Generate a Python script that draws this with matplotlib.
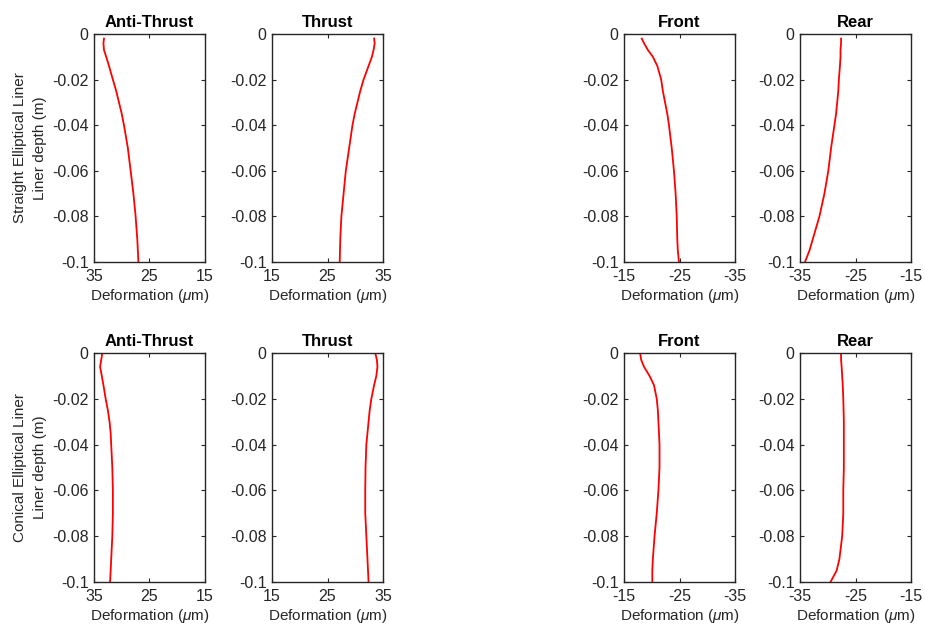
import matplotlib
matplotlib.use("Agg")
import matplotlib.pyplot as plt

plt.rcParams['font.family'] = ['Liberation Sans', 'DejaVu Sans']
plt.rcParams['mathtext.fontset'] = 'custom'
plt.rcParams['mathtext.it'] = 'Liberation Sans:italic'
plt.rcParams['mathtext.rm'] = 'Liberation Sans'

titles = ["Anti-Thrust", "Thrust", "Front", "Rear"]
row_labels = ["Straight Elliptical Liner\nLiner depth (m)",
              "Conical Elliptical Liner\nLiner depth (m)"]
xlims = [(35, 15), (15, 35), (-15, -35), (-35, -15)]
xticks = [[35, 25, 15], [15, 25, 35], [-15, -25, -35], [-35, -25, -15]]
yticks = [0, -0.02, -0.04, -0.06, -0.08, -0.1]
ytick_labels = ["0", "-0.02", "-0.04", "-0.06", "-0.08", "-0.1"]

depth_straight = [-0.002, -0.004, -0.007, -0.010, -0.014, -0.020, -0.025, -0.030,
                  -0.035, -0.040, -0.050, -0.060, -0.070, -0.080, -0.090, -0.095, -0.100]
straight_anti = [33.2, 33.3, 33.2, 32.8, 32.3, 31.6, 31.0, 30.5, 30.0, 29.6, 28.9,
                 28.4, 27.9, 27.5, 27.2, 27.1, 27.0]
straight_thrust = [33.4, 33.5, 33.3, 33.0, 32.4, 31.5, 30.9, 30.4, 29.9, 29.5, 28.9,
                   28.3, 27.9, 27.5, 27.3, 27.25, 27.2]
straight_front = [-18.2, -18.6, -19.3, -20.2, -21.0, -21.7, -22.0, -22.4, -22.8, -23.1,
                  -23.6, -24.0, -24.3, -24.5, -24.6, -24.7, -24.9]
straight_rear = [-27.6, -27.6, -27.7, -27.7, -27.8, -28.0, -28.1, -28.3, -28.5, -28.8,
                 -29.4, -29.9, -30.6, -31.5, -32.7, -33.3, -34.1]

depth_conical = [0.0, -0.003, -0.006, -0.010, -0.014, -0.020, -0.025, -0.030, -0.035,
                 -0.040, -0.050, -0.060, -0.070, -0.080, -0.090, -0.095, -0.100]
conical_anti = [33.5, 33.7, 33.9, 33.6, 33.3, 32.9, 32.5, 32.2, 32.0, 31.9, 31.7,
                31.6, 31.6, 31.7, 31.9, 32.0, 32.1]
conical_thrust = [33.6, 33.9, 34.0, 33.8, 33.4, 32.9, 32.6, 32.4, 32.2, 32.0, 31.85,
                  31.8, 31.8, 32.0, 32.2, 32.3, 32.4]
conical_front = [-17.9, -18.1, -18.6, -19.6, -20.4, -20.9, -21.1, -21.2, -21.3, -21.4,
                 -21.4, -21.2, -20.9, -20.5, -20.2, -20.1, -20.1]
conical_rear = [-27.6, -27.6, -27.5, -27.4, -27.3, -27.2, -27.15, -27.1, -27.1, -27.1,
                -27.1, -27.2, -27.2, -27.4, -27.9, -28.4, -29.5]

rows = [
    (depth_straight, [straight_anti, straight_thrust, straight_front, straight_rear]),
    (depth_conical, [conical_anti, conical_thrust, conical_front, conical_rear]),
]

W, H = 925, 625
fig = plt.figure(figsize=(W / 100, H / 100), dpi=100)
lefts = [94, 272, 624, 800]
axw = 111
row_y = [(34, 262), (353, 582)]
grey = '#262626'

for r, (depth, series) in enumerate(rows):
    top, bot = row_y[r]
    for c in range(4):
        ax = fig.add_axes([lefts[c] / W, 1 - bot / H, axw / W, (bot - top) / H])
        ax.plot(series[c], depth, color='red', lw=1.3)
        ax.set_xlim(*xlims[c])
        ax.set_ylim(-0.1, 0)
        ax.set_xticks(xticks[c])
        ax.set_xticklabels([str(v) for v in xticks[c]])
        ax.set_yticks(yticks)
        ax.set_yticklabels(ytick_labels)
        ax.tick_params(direction='in', top=True, right=True, length=3,
                       labelsize=11.5, colors=grey, width=0.8)
        ax.tick_params(axis='x', pad=5)
        ax.tick_params(axis='y', pad=4)
        for s in ax.spines.values():
            s.set_color(grey)
            s.set_linewidth(1.0)
        ax.set_title(titles[c], fontsize=12, fontweight='bold', pad=5)
        ax.set_xlabel(r'Deformation ($\mu$m)', fontsize=11, color=grey, labelpad=2)
        if c == 0:
            ax.set_ylabel(row_labels[r], fontsize=11, color=grey, linespacing=1.55)
            ax.yaxis.set_label_coords(-0.42, 0.5)

fig.savefig("out.png", dpi=100)
